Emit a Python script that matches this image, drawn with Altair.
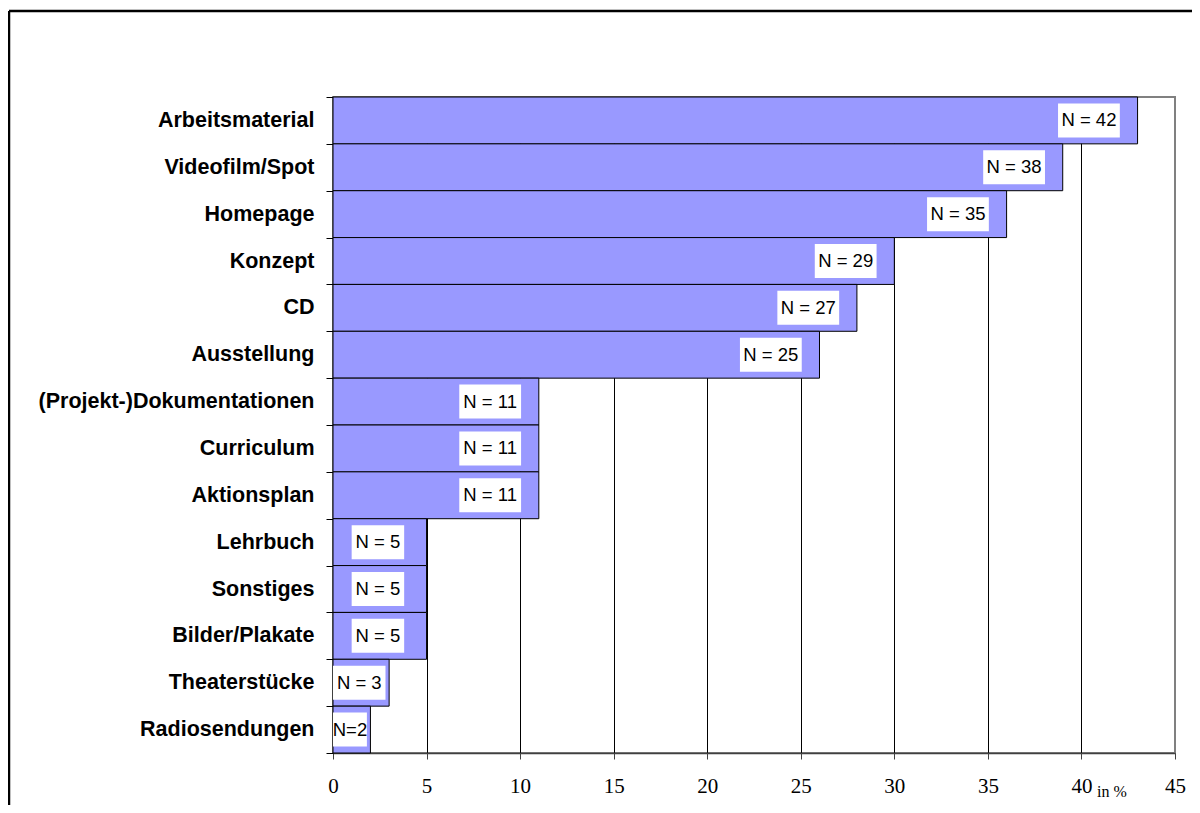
import altair as alt
import pandas as pd

categories = ["Arbeitsmaterial", "Videofilm/Spot", "Homepage", "Konzept", "CD",
              "Ausstellung", "(Projekt-)Dokumentationen", "Curriculum", "Aktionsplan",
              "Lehrbuch", "Sonstiges", "Bilder/Plakate", "Theaterstücke", "Radiosendungen"]
percent = [43, 39, 36, 30, 28, 26, 11, 11, 11, 5, 5, 5, 3, 2]
labels = ["N = 42", "N = 38", "N = 35", "N = 29", "N = 27", "N = 25", "N = 11",
          "N = 11", "N = 11", "N = 5", "N = 5", "N = 5", "N = 3", "N=2"]
x_ticks = [0, 5, 10, 15, 20, 25, 30, 35, 40, 45]

df = pd.DataFrame({"cat": categories, "pct": percent, "label": labels})

W, H = 842, 656
PX_PER_UNIT = W / 45.0

y_enc = alt.Y("cat:N", sort=categories, title=None,
              scale=alt.Scale(paddingInner=0, paddingOuter=0),
              axis=alt.Axis(labelFont="Liberation Sans", labelFontWeight="bold",
                            labelFontSize=21.5, labelColor="black", labelPadding=12,
                            tickSize=7, tickColor="black", tickBand="extent",
                            domain=False, grid=False, labelLimit=400))

x_scale = alt.Scale(domain=[0, 45], nice=False, zero=True)

bars = alt.Chart(df).mark_bar(color="#9999FF", stroke="black", strokeWidth=1).encode(
    x=alt.X("pct:Q", scale=x_scale, title=None,
            axis=alt.Axis(values=x_ticks, labelFont="Liberation Serif", labelFontSize=21,
                          labelColor="black", labelPadding=16, tickSize=6,
                          tickColor="#404040", domainColor="#404040", domainWidth=1.5,
                          grid=True,
                          gridColor=alt.condition("datum.value == 45", alt.value("#808080"), alt.value("black")),
                          gridWidth=1, labelFlush=False)),
    y=y_enc,
)

label_base = alt.Chart(df).transform_calculate(
    hw="(length(datum.label) * 9.3 + 6) / 2 / %f" % PX_PER_UNIT
).transform_calculate(
    lx="max(datum.pct - 2.6, datum.hw)"
).transform_calculate(
    bx="datum.lx - datum.hw", bx2="datum.lx + datum.hw"
)

boxes = label_base.mark_bar(color="white", size=34).encode(
    x=alt.X("bx:Q", scale=x_scale), x2="bx2:Q",
    y=alt.Y("cat:N", sort=categories),
)

texts = label_base.mark_text(font="Liberation Sans", fontSize=18.5, color="black",
                             align="center", baseline="middle").encode(
    x=alt.X("lx:Q", scale=x_scale),
    y=alt.Y("cat:N", sort=categories),
    text="label:N",
)

one = alt.Data(values=[{"a": 1}])
in_pct = alt.Chart(one).mark_text(font="Liberation Serif", fontSize=16, color="black",
                                  align="center", baseline="middle").encode(
    x=alt.value(779), y=alt.value(695), text=alt.value("in %"))

frame_top = alt.Chart(one).mark_rule(color="black", strokeWidth=2.5).encode(
    x=alt.value(-324), x2=alt.value(900), y=alt.value(-86))
frame_left = alt.Chart(one).mark_rule(color="black", strokeWidth=2.5).encode(
    x=alt.value(-324), y=alt.value(-86), y2=alt.value(760))

chart = alt.layer(bars, boxes, texts, in_pct, frame_top, frame_left).properties(
    width=W, height=H,
    autosize=alt.AutoSizeParams(type="none"),
    padding={"left": 325, "top": 89, "right": 17, "bottom": 52},
    background="white",
).configure_view(stroke="#808080", strokeWidth=2)

chart.save("out.html", embed_options={"renderer": "svg", "actions": False})
